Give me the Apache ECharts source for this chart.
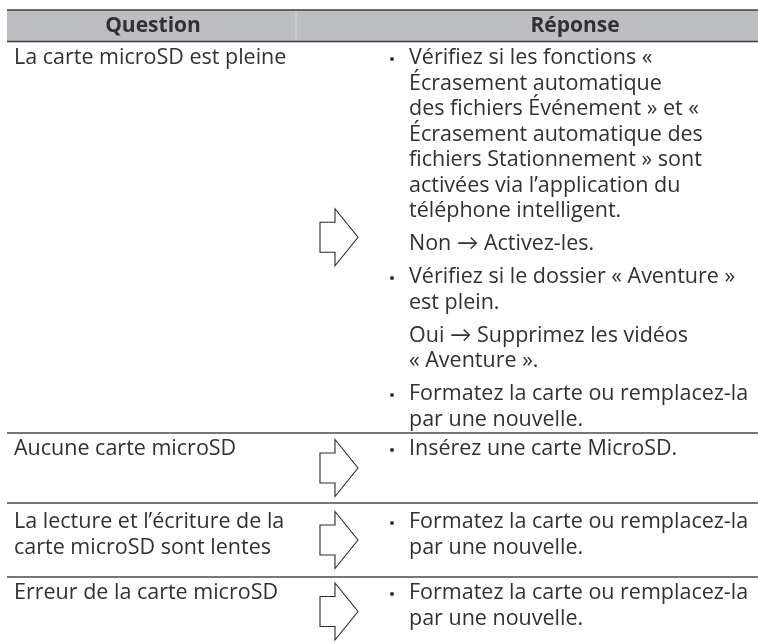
<!DOCTYPE html>
<html>
<head>
<meta charset="utf-8">
<script src="https://cdn.jsdelivr.net/npm/echarts@6/dist/echarts.min.js"></script>
<style>html,body{margin:0;padding:0;background:#fff}#c{width:758px;height:644px}</style>
</head>
<body>
<div id="c"></div>
<script>
// ---- data ----
const headers = ['Question', 'Réponse'];
const questions = [
  ['La carte microSD est pleine'],
  ['Aucune carte microSD'],
  ['La lecture et l\u2019écriture de la', 'carte microSD sont lentes'],
  ['Erreur de la carte microSD']
];
// each answer: list of paragraphs; bullet=true means bulleted paragraph
const answers = [
  [
    { bullet: true, lines: ['Vérifiez si les fonctions «', 'Écrasement automatique', 'des fichiers Événement » et «', 'Écrasement automatique des', 'fichiers Stationnement » sont', 'activées via l\u2019application du', 'téléphone intelligent.'] },
    { bullet: false, lines: ['Non \u2192 Activez-les.'] },
    { bullet: true, lines: ['Vérifiez si le dossier « Aventure »', 'est plein.'] },
    { bullet: false, lines: ['Oui \u2192 Supprimez les vidéos', '« Aventure ».'] },
    { bullet: true, lines: ['Formatez la carte ou remplacez-la', 'par une nouvelle.'] }
  ],
  [
    { bullet: true, lines: ['Insérez une carte MicroSD.'] }
  ],
  [
    { bullet: true, lines: ['Formatez la carte ou remplacez-la', 'par une nouvelle.'] }
  ],
  [
    { bullet: true, lines: ['Formatez la carte ou remplacez-la', 'par une nouvelle.'] }
  ]
];

// ---- layout (pixel units of the hidden value axes) ----
const L = {
  left: 7, right: 758, split: 296,
  headTop: 10, headBottom: 41.5,
  headTextX: [153, 575],
  rowBottoms: [433, 503, 577, 646],
  firstOffset: [16.5, 16, 19, 16],
  lineH: 25.5, paraGap: 7.5,
  qX: 14, bulletX: 392, aX: 409,
  arrow: { x0: 320, neck: 335, tip: 358, rectHalf: 15, headHalf: 28.5 }
};
const FONT = '"Open Sans", Lato, sans-serif';
const TEXT = '#313131';
const FS = 21.5;

function txt(api, x, y, s, opts) {
  const p = api.coord([x, y]);
  return {
    type: 'text',
    style: Object.assign({
      text: s, x: p[0], y: p[1], fill: TEXT,
      fontSize: FS, fontFamily: FONT,
      align: 'left', verticalAlign: 'middle',
      textAlign: 'left', textVerticalAlign: 'middle'
    }, opts || {})
  };
}

function renderHeader(params, api) {
  const a = api.coord([L.left, L.headTop]);
  const b = api.coord([L.right, L.headBottom]);
  const s = api.coord([L.split, 0]);
  const cy = (L.headTop + L.headBottom) / 2;
  return {
    type: 'group',
    children: [
      { type: 'rect', shape: { x: a[0], y: a[1], width: b[0] - a[0], height: b[1] - a[1] }, style: { fill: '#bdbec1' } },
      { type: 'line', shape: { x1: s[0], y1: a[1], x2: s[0], y2: b[1] }, style: { stroke: '#d4d5d7', lineWidth: 1 } },
      { type: 'line', shape: { x1: a[0], y1: a[1], x2: b[0], y2: a[1] }, style: { stroke: '#3c3c3c', lineWidth: 1.6 } },
      { type: 'line', shape: { x1: a[0], y1: b[1], x2: b[0], y2: b[1] }, style: { stroke: '#3c3c3c', lineWidth: 1.6 } },
      txt(api, L.headTextX[0], cy, headers[0], { fontWeight: 'bold', fontSize: 21, align: 'center', textAlign: 'center' }),
      txt(api, L.headTextX[1], cy, headers[1], { fontWeight: 'bold', fontSize: 21, align: 'center', textAlign: 'center' })
    ]
  };
}

function renderRow(params, api) {
  const i = params.dataIndex;
  const top = i === 0 ? L.headBottom : L.rowBottoms[i - 1];
  const bottom = L.rowBottoms[i];
  const children = [];
  if (i > 0) {
    const a = api.coord([L.left, top]);
    const b = api.coord([L.right, top]);
    children.push({ type: 'line', shape: { x1: a[0], y1: a[1], x2: b[0], y2: b[1] }, style: { stroke: '#4a4a4a', lineWidth: 1.3 } });
  }
  let y = top + L.firstOffset[i];
  questions[i].forEach(function (line, k) {
    children.push(txt(api, L.qX, y + k * L.lineH, line));
  });
  answers[i].forEach(function (para, pi) {
    if (pi > 0) y += L.paraGap;
    if (para.bullet) {
      const c = api.coord([L.bulletX, y + 1]);
      children.push({ type: 'circle', shape: { cx: c[0], cy: c[1], r: 2 }, style: { fill: TEXT } });
    }
    para.lines.forEach(function (line) {
      children.push(txt(api, L.aX, y, line));
      y += L.lineH;
    });
  });
  const cy = (top + bottom) / 2;
  const A = L.arrow;
  const pts = [
    [A.x0, cy - A.rectHalf], [A.neck, cy - A.rectHalf], [A.neck, cy - A.headHalf],
    [A.tip, cy], [A.neck, cy + A.headHalf], [A.neck, cy + A.rectHalf], [A.x0, cy + A.rectHalf]
  ].map(function (p) { return api.coord(p); });
  children.push({ type: 'polygon', shape: { points: pts }, style: { fill: '#fff', stroke: '#2b2b2b', lineWidth: 1.1 } });
  return { type: 'group', children: children };
}

const chart = echarts.init(document.getElementById('c'), null, { renderer: 'canvas' });
chart.setOption({
  animation: false,
  backgroundColor: '#fff',
  grid: { left: 0, right: 0, top: 0, bottom: 0 },
  xAxis: { type: 'value', min: 0, max: 758, show: false },
  yAxis: { type: 'value', min: 0, max: 644, inverse: true, show: false },
  series: [
    { type: 'custom', renderItem: renderHeader, data: [[0, 0]], clip: false, silent: true },
    { type: 'custom', renderItem: renderRow, data: questions.map(function (q, i) { return [i, i]; }), clip: false, silent: true }
  ]
});
</script>
</body>
</html>
